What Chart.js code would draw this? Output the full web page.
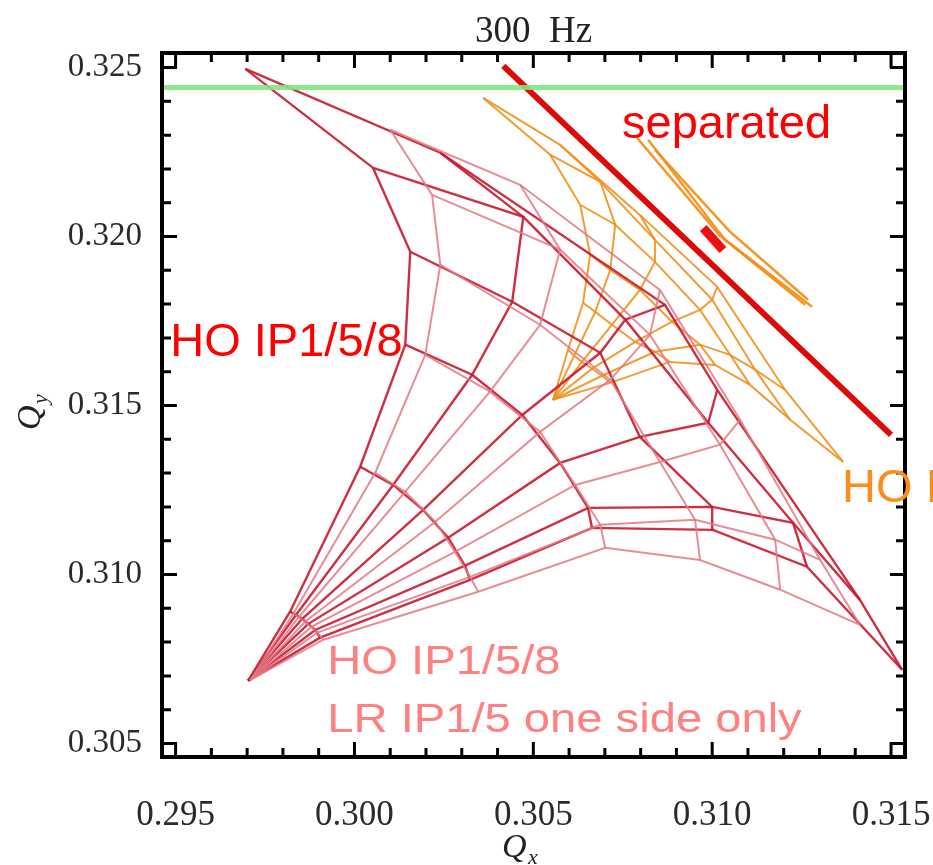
<!DOCTYPE html>
<html>
<head>
<meta charset="utf-8">
<script src="https://cdn.jsdelivr.net/npm/chart.js@4.4.0/dist/chart.umd.min.js"></script>
<style>
  html, body { margin: 0; padding: 0; background: #fff; }
</style>
</head>
<body>
<canvas id="chartCanvas" width="933" height="865"></canvas>
<script>
"use strict";

// axis ranges and tick labels
const xRange = [0.29462, 0.31539];
const yRange = [0.30460, 0.32543];
const xTicks = [0.295, 0.300, 0.305, 0.310, 0.315];
const yTicks = [0.305, 0.310, 0.315, 0.320, 0.325];

// HO IP1/5/8 footprint (dark red). rows = angle (horizontal -> vertical), cols = amplitude rings
const hoApex = [0.29703, 0.30686];
const hoQx = [
    [0.29904, 0.30323, 0.30664, 0.31002, 0.31265, 0.31531],
    [0.29890, 0.30309, 0.30653, 0.31000, 0.31226, 0.31413],
    [0.29871, 0.30262, 0.30575, 0.30798, 0.30989, 0.31014],
    [0.29854, 0.30192, 0.30469, 0.30687, 0.30757, 0.30868],
    [0.29837, 0.30108, 0.30329, 0.30441, 0.30472, 0.30240],
    [0.29820, 0.30016, 0.30142, 0.30156, 0.30052, 0.29695]
];
const hoQy = [
    [0.30813, 0.30984, 0.31138, 0.31132, 0.31023, 0.30718],
    [0.30836, 0.31026, 0.31197, 0.31200, 0.31153, 0.30925],
    [0.30854, 0.31109, 0.31330, 0.31407, 0.31449, 0.31546],
    [0.30869, 0.31191, 0.31472, 0.31656, 0.31754, 0.31798],
    [0.30881, 0.31265, 0.31591, 0.31807, 0.32058, 0.32248],
    [0.30890, 0.31319, 0.31680, 0.31955, 0.32203, 0.32496]
];

// HO IP1/5/8 + LR IP1/5 one side only (pink)
const lrApex = [0.29709, 0.30688];
const lrQx = [
    [0.29913, 0.30346, 0.30701, 0.30966, 0.31190, 0.31413],
    [0.29896, 0.30323, 0.30687, 0.30952, 0.31176, 0.31302],
    [0.29879, 0.30281, 0.30617, 0.30854, 0.31022, 0.31078],
    [0.29862, 0.30226, 0.30519, 0.30715, 0.30826, 0.30854],
    [0.29845, 0.30142, 0.30379, 0.30519, 0.30575, 0.30463],
    [0.29829, 0.30058, 0.30198, 0.30240, 0.30217, 0.30100]
];
const lrQy = [
    [0.30807, 0.30949, 0.31079, 0.31043, 0.30955, 0.30851],
    [0.30828, 0.30993, 0.31147, 0.31162, 0.31103, 0.31043],
    [0.30845, 0.31067, 0.31265, 0.31333, 0.31384, 0.31458],
    [0.30860, 0.31156, 0.31422, 0.31576, 0.31709, 0.31842],
    [0.30875, 0.31245, 0.31541, 0.31739, 0.31961, 0.32153],
    [0.30884, 0.31301, 0.31650, 0.31916, 0.32123, 0.32316]
];

// orange footprint
const orApex = [0.30555, 0.31517];
const orQx = [
    [0.30715, 0.30882, 0.31008, 0.31106, 0.31218, 0.31366],
    [0.30692, 0.30840, 0.30966, 0.31050, 0.31120, 0.31204],
    [0.30664, 0.30785, 0.30888, 0.30966, 0.31000, 0.31014],
    [0.30636, 0.30720, 0.30798, 0.30840, 0.30840, 0.30798],
    [0.30614, 0.30673, 0.30715, 0.30729, 0.30687, 0.30575],
    [0.30597, 0.30639, 0.30659, 0.30631, 0.30547, 0.30360]
];
const orQy = [
    [0.31567, 0.31629, 0.31620, 0.31561, 0.31458, 0.31333],
    [0.31588, 0.31659, 0.31680, 0.31650, 0.31606, 0.31546],
    [0.31609, 0.31688, 0.31748, 0.31783, 0.31813, 0.31851],
    [0.31629, 0.31739, 0.31842, 0.31925, 0.31990, 0.32064],
    [0.31647, 0.31777, 0.31901, 0.32035, 0.32162, 0.32271],
    [0.31665, 0.31804, 0.31946, 0.32094, 0.32242, 0.32410]
];

// separated beams: orange narrow footprint and red line
const sepOrQx = [
    [0.30790, 0.31022, 0.31279],
    [0.30821, 0.31036, 0.31260],
    [0.30840, 0.31050, 0.31268]
];
const sepOrQy = [
    [0.32292, 0.32002, 0.31792],
    [0.32286, 0.31990, 0.31798],
    [0.32257, 0.32014, 0.31813]
];
const sepQx = [0.30416, 0.31500];
const sepQy = [0.32505, 0.31413];
const sepCoreQx = [0.30975, 0.31030];
const sepCoreQy = [0.32025, 0.31960];

// resonance line
const greenQy = 0.32441;

// text labels: [text, Qx, Qy, colour, x-stretch]
const labels = [
    ["separated", 0.30748, 0.32292, "#ff0000", 1],
    ["HO IP1/5/8", 0.29485, 0.31647, "#ff0000", 1],
    ["HO IP1/5/8", 0.31363, 0.31215, "#ff8c1a", 1],
    ["HO IP1/5/8", 0.29924, 0.30706, "#ff8080", 1.15],
    ["LR IP1/5 one side only", 0.29924, 0.30535, "#ff8080", 1.15]
];

function line(pts, color, width) {
    return {
        data: pts,
        showLine: true,
        borderColor: color,
        borderWidth: width,
        pointRadius: 0,
        tension: 0,
        fill: false
    };
}

function mesh(apex, qx, qy, color, width) {
    const sets = [];
    for (let a = 0; a < qx.length; a++) {
        const pts = [{ x: apex[0], y: apex[1] }];
        for (let r = 0; r < qx[a].length; r++) pts.push({ x: qx[a][r], y: qy[a][r] });
        sets.push(line(pts, color, width));
    }
    for (let r = 0; r < qx[0].length; r++) {
        const pts = [];
        for (let a = 0; a < qx.length; a++) pts.push({ x: qx[a][r], y: qy[a][r] });
        sets.push(line(pts, color, width));
    }
    return sets;
}

const datasets = [];
datasets.push(line([{ x: xRange[0], y: greenQy }, { x: xRange[1], y: greenQy }], "rgba(130,230,130,0.9)", 5));
datasets.push(...mesh(lrApex, lrQx, lrQy, "rgba(228,120,130,0.85)", 2));
datasets.push(...mesh(hoApex, hoQx, hoQy, "rgba(200,25,45,0.9)", 2.4));
datasets.push(...mesh(orApex, orQx, orQy, "rgba(240,145,30,0.9)", 2));
sepOrQx.forEach((row, i) => {
    datasets.push(line(row.map((v, j) => ({ x: v, y: sepOrQy[i][j] })), "rgba(245,140,20,0.9)", 2.5));
});
datasets.push(line([{ x: sepQx[0], y: sepQy[0] }, { x: sepQx[1], y: sepQy[1] }], "#dd0a0a", 6));
datasets.push(line([{ x: sepCoreQx[0], y: sepCoreQy[0] }, { x: sepCoreQx[1], y: sepCoreQy[1] }], "#ee1010", 9));

const framePlugin = {
    id: "frame",
    afterDraw(chart) {
        const c = chart.ctx;
        const a = chart.chartArea;
        const sx = chart.scales.x, sy = chart.scales.y;
        c.save();
        c.strokeStyle = "#000";
        c.lineWidth = 3;
        // inward ticks on all sides
        for (let i = 0; i <= 20; i++) {
            const major = i % 5 === 0;
            const len = major ? 15 : 9;
            const px = sx.getPixelForValue(xTicks[0] + i * 0.001);
            const py = sy.getPixelForValue(yTicks[0] + i * 0.001);
            c.beginPath();
            c.moveTo(px, a.bottom); c.lineTo(px, a.bottom - len);
            c.moveTo(px, a.top); c.lineTo(px, a.top + len);
            c.moveTo(a.left, py); c.lineTo(a.left + len, py);
            c.moveTo(a.right, py); c.lineTo(a.right - len, py);
            c.stroke();
        }
        c.lineWidth = 4;
        c.strokeRect(a.left, a.top, a.right - a.left, a.bottom - a.top);

        // title
        c.fillStyle = "#222";
        c.textAlign = "center";
        c.textBaseline = "alphabetic";
        c.font = "37px 'Liberation Serif', 'Times New Roman', serif";
        c.fillText("300  Hz", (a.left + a.right) / 2, 42);

        // axis titles
        c.textAlign = "left";
        c.font = "italic 34px 'Liberation Serif', 'Times New Roman', serif";
        c.fillText("Q", 502, 857);
        c.font = "italic 22px 'Liberation Serif', 'Times New Roman', serif";
        c.fillText("x", 528, 864);
        c.translate(40, 430);
        c.rotate(-Math.PI / 2);
        c.font = "italic 34px 'Liberation Serif', 'Times New Roman', serif";
        c.fillText("Q", 0, 0);
        c.font = "italic 22px 'Liberation Serif', 'Times New Roman', serif";
        c.fillText("y", 26, 7);
        c.restore();

        // in-plot labels
        c.save();
        c.font = "47px 'Liberation Sans', Arial, sans-serif";
        labels.forEach(([t, qx, qy, col, st]) => {
            c.save();
            c.fillStyle = col;
            c.translate(sx.getPixelForValue(qx), sy.getPixelForValue(qy));
            if (st !== 1) {
                c.scale(st, 1);
                c.font = "41px 'Liberation Sans', Arial, sans-serif";
            }
            c.fillText(t, 0, 0);
            c.restore();
        });
        c.restore();
    }
};

new Chart(document.getElementById("chartCanvas").getContext("2d"), {
    type: "scatter",
    data: { datasets: datasets },
    options: {
        responsive: false,
        animation: false,
        layout: { padding: { top: 53, right: 28, left: 0, bottom: 0 } },
        plugins: { legend: { display: false }, tooltip: { enabled: false } },
        scales: {
            x: {
                type: "linear",
                min: xRange[0],
                max: xRange[1],
                grid: { display: false },
                border: { display: false },
                afterBuildTicks: s => { s.ticks = xTicks.map(v => ({ value: v })); },
                afterFit: s => { s.height = 108; s.paddingLeft = 0; s.paddingRight = 0; },
                ticks: {
                    autoSkip: false,
                    maxRotation: 0,
                    padding: 30,
                    color: "#2a2a2a",
                    font: { family: "'Liberation Serif', 'Times New Roman', serif", size: 35 },
                    callback: v => v.toFixed(3)
                }
            },
            y: {
                type: "linear",
                min: yRange[0],
                max: yRange[1],
                grid: { display: false },
                border: { display: false },
                afterBuildTicks: s => { s.ticks = yTicks.map(v => ({ value: v })); },
                afterFit: s => { s.width = 162; s.paddingTop = 0; s.paddingBottom = 0; },
                ticks: {
                    autoSkip: false,
                    padding: 12,
                    color: "#2a2a2a",
                    font: { family: "'Liberation Serif', 'Times New Roman', serif", size: 33 },
                    callback: v => v.toFixed(3)
                }
            }
        }
    },
    plugins: [framePlugin]
});
</script>
</body>
</html>
